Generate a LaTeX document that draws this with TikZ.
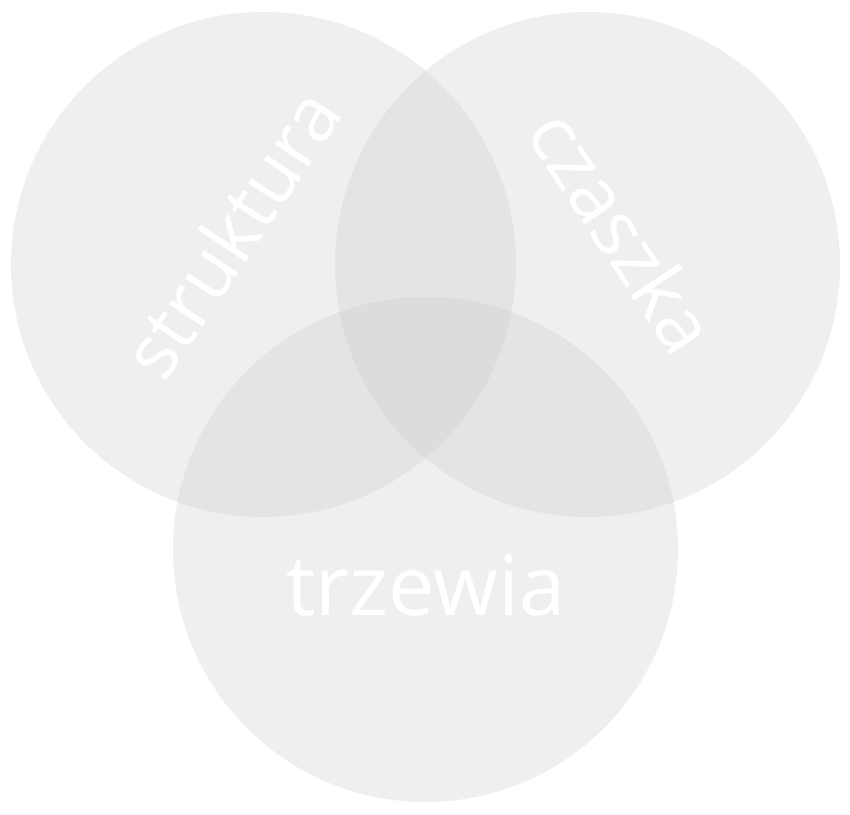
\documentclass[tikz,border=0pt]{standalone}
\usepackage{fontspec}
\setmainfont{Open Sans}
\definecolor{setgray}{RGB}{200,200,200}
\tikzset{
  set/.style={circle,fill=setgray,fill opacity=0.29,minimum size=505pt,inner sep=0pt},
  setlabel/.style={text=white,font=\fontsize{80}{80}\selectfont,inner sep=0pt}
}
\begin{document}
\begin{tikzpicture}[x=1pt,y=1pt]
            \useasboundingbox (0,0) rectangle (850,814);
            % Circles
            \node[set] (L) at (263.5,549.5){};
            \node[set] (R) at (587.5,549.5){};
            \node[set] (B) at (425.5,264.5){};
            % Labels
            \node[setlabel,rotate=56.5,font=\fontsize{76}{76}\selectfont] (struktura) at (231,581){struktura};
            \node[setlabel,rotate=-56.5,font=\fontsize{77}{77}\selectfont] (czaszka) at (623,583){czaszka};
            \node[setlabel,font=\fontsize{83}{83}\selectfont] (trzewia) at (426,229){trzewia};
        \end{tikzpicture}
\end{document}
